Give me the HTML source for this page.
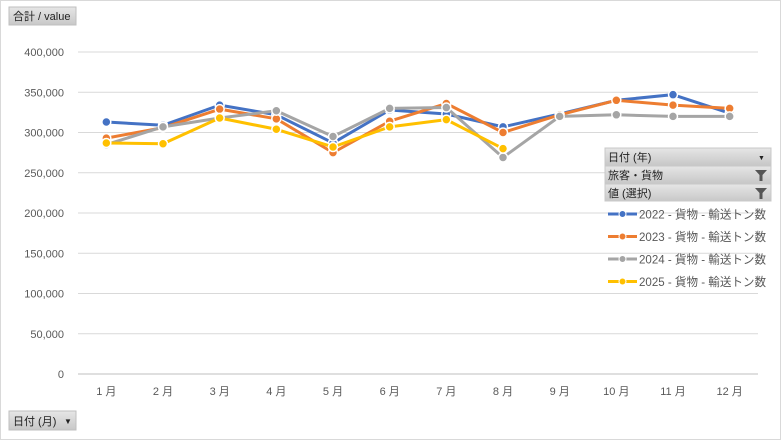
<!DOCTYPE html>
<html><head><meta charset="utf-8">
<style>
body{margin:0;background:#fff;}
svg{display:block;font-family:"Liberation Sans","Noto Sans CJK JP",sans-serif;}
</style></head>
<body>
<svg id="chart" width="781" height="440" xmlns="http://www.w3.org/2000/svg">
<defs><linearGradient id="btn" x1="0" y1="0" x2="0" y2="1"><stop offset="0" stop-color="#e6e6e6"/><stop offset="1" stop-color="#c8c8c8"/></linearGradient></defs>
<rect x="0.5" y="0.5" width="780" height="439" fill="#fff" stroke="#d9d9d9"/>
<g id="grid"></g>
<g id="series"></g>
<g id="axis"></g>
<g>
<rect x="9" y="7" width="67" height="18" fill="url(#btn)" stroke="#bfbfbf"/>
<text x="13" y="20" font-size="11" fill="#222">合計 / value</text>
</g>
<g>
<rect x="9" y="411" width="67" height="19" fill="url(#btn)" stroke="#bfbfbf"/>
<text x="13" y="425" font-size="11" fill="#222">日付 (月)</text>
<text x="64" y="424" font-size="8" fill="#222">▼</text>
</g>
<g>
<rect x="605" y="148" width="166" height="17" fill="url(#btn)" stroke="#c8c8c8"/>
<text x="608" y="161" font-size="11" fill="#222">日付 (年)</text>
<text x="758" y="160" font-size="7" fill="#222">▼</text>
</g>
<g>
<rect x="605" y="166" width="166" height="17" fill="url(#btn)" stroke="#c8c8c8"/>
<text x="608" y="179" font-size="11" fill="#222">旅客・貨物</text>
<path d="M755 170h12l-4.5 5v6h-3v-6z" fill="#555"/>
</g>
<g>
<rect x="605" y="184" width="166" height="17" fill="url(#btn)" stroke="#c8c8c8"/>
<text x="608" y="197" font-size="11" fill="#222">値 (選択)</text>
<path d="M755 188h12l-4.5 5v6h-3v-6z" fill="#555"/>
</g>
<g id="legend"></g>
</svg>
<script>
const categories=["1月","2月","3月","4月","5月","6月","7月","8月","9月","10月","11月","12月"];
const yTicks=[0,50000,100000,150000,200000,250000,300000,350000,400000];
const seriesNames=["2022 - 貨物 - 輸送トン数","2023 - 貨物 - 輸送トン数","2024 - 貨物 - 輸送トン数","2025 - 貨物 - 輸送トン数"];
const s2022=[313000,309000,334000,322000,287000,328000,323000,307000,323000,340000,347000,324000];
const s2023=[293000,306000,329000,317000,275000,314000,336000,300000,322000,340000,334000,330000];
const s2024=[285000,307000,318000,327000,295000,330000,331000,269000,320000,322000,320000,320000];
const s2025=[287000,286000,318000,304000,282000,307000,316000,280000];
const colors=["#4472c4","#ed7d31","#a5a5a5","#ffc000"];
const NS="http://www.w3.org/2000/svg";
const left=78,right=758,y0=374,yTop=52,yMax=400000;
const band=(right-left)/categories.length;
const xs=i=>left+band*(i+0.5);
const ys=v=>y0-(v/yMax)*(y0-yTop);
function mk(t,a,p){const e=document.createElementNS(NS,t);for(const k in a)e.setAttribute(k,a[k]);p.appendChild(e);return e;}
const grid=document.getElementById('grid'),axis=document.getElementById('axis'),ser=document.getElementById('series'),leg=document.getElementById('legend');
yTicks.forEach(v=>{
 const l=mk('line',{x1:left,x2:right,y1:ys(v),y2:ys(v),stroke:'#d9d9d9','stroke-width':1},grid);
 
 
 const t=mk('text',{x:64,y:ys(v)+4,'text-anchor':'end','font-size':11,fill:'#595959'},axis);
 t.textContent=v.toLocaleString('en-US');
 
 
});
const ax=mk('line',{x1:left,x2:right,y1:y0,y2:y0,stroke:'#bfbfbf'},axis);


categories.forEach((c,i)=>{
 const t=mk('text',{x:xs(i),y:395,'text-anchor':'middle','font-size':11,fill:'#595959'},axis);
 t.textContent=c.replace('月',' 月');
 
 
});
const all=[s2022,s2023,s2024,s2025];
all.forEach((s,k)=>{
 const g=mk('g',{},ser);
 
 
 const pl=mk('polyline',{points:s.map((v,i)=>xs(i)+','+ys(v)).join(' '),fill:'none',stroke:colors[k],'stroke-width':3,'stroke-linejoin':'round'},g);
 
 
 s.forEach((v,i)=>{
  const c=mk('circle',{cx:xs(i),cy:ys(v),r:4.5,fill:colors[k],stroke:'#fff','stroke-width':1.5},g);
  
  
 });
});
seriesNames.forEach((n,k)=>{
 const y=214+k*22.5;
 const g=mk('g',{},leg);
 
 
 mk('line',{x1:608,x2:637,y1:y,y2:y,stroke:colors[k],'stroke-width':3},g);
 mk('circle',{cx:622.5,cy:y,r:3.5,fill:colors[k],stroke:'#fff','stroke-width':1},g);
 const t=mk('text',{x:639,y:y+4.5,'font-size':12,fill:'#595959',textLength:127,lengthAdjust:'spacingAndGlyphs'},g);
 t.textContent=n;
});
</script>
</body></html>
